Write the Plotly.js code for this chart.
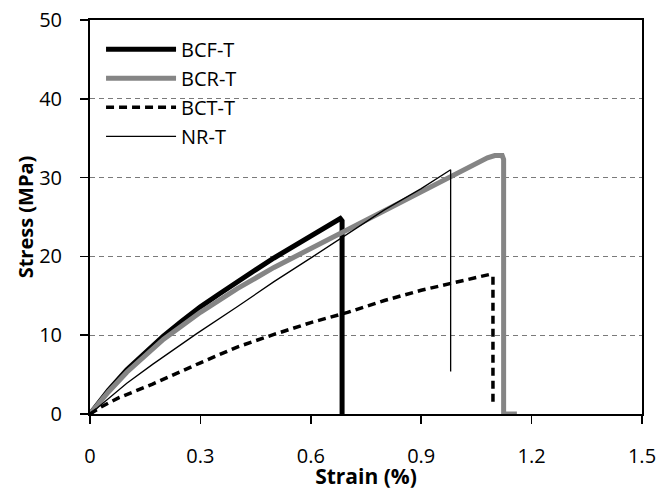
<!DOCTYPE html>
<html>
<head>
<meta charset="utf-8">
<script src="https://cdn.plot.ly/plotly-3.0.1.min.js"></script>
<style>html,body{margin:0;padding:0;background:#fff;}#chart{width:659px;height:490px;}</style>
</head>
<body>
<div id="chart"></div>
<script>
// BCF-T
var bcfStrain = [0, 0.025, 0.05, 0.1, 0.15, 0.2, 0.25, 0.3, 0.35, 0.4, 0.45, 0.5, 0.55, 0.6, 0.65, 0.68, 0.685, 0.685];
var bcfStress = [0, 1.6, 3.0, 5.6, 7.8, 9.9, 11.8, 13.6, 15.2, 16.8, 18.3, 19.8, 21.2, 22.6, 23.9, 24.8, 24.5, 0];
// BCR-T
var bcrStrain = [0, 0.025, 0.05, 0.1, 0.15, 0.2, 0.3, 0.4, 0.5, 0.6, 0.7, 0.8, 0.9, 1.0, 1.05, 1.08, 1.1, 1.12, 1.124, 1.124, 1.16];
var bcrStress = [0, 1.5, 2.8, 5.3, 7.5, 9.5, 12.9, 15.9, 18.6, 21.0, 23.3, 25.7, 28.1, 30.5, 31.8, 32.5, 32.8, 32.8, 32.3, 0, 0];
// BCT-T
var bctStrain = [0, 0.03, 0.08, 0.17, 0.3, 0.4, 0.5, 0.6, 0.7, 0.8, 0.9, 1.0, 1.05, 1.085, 1.095, 1.095];
var bctStress = [0, 0.9, 2.1, 3.8, 6.5, 8.5, 10.1, 11.6, 12.9, 14.4, 15.7, 16.8, 17.3, 17.7, 17.5, 1.0];
// NR-T
var nrStrain = [0, 0.05, 0.1, 0.17, 0.29, 0.4, 0.5, 0.61, 0.7, 0.8, 0.9, 0.98, 0.98];
var nrStress = [0, 2.0, 3.9, 6.3, 10.2, 13.6, 16.8, 20.1, 22.9, 25.9, 28.6, 31.0, 5.4];

var xTicks = [0, 0.3, 0.6, 0.9, 1.2, 1.5];
var xTickText = ['0', '0.3', '0.6', '0.9', '1.2', '1.5'];
var yTicks = [0, 10, 20, 30, 40, 50];

var font = 'Open Sans, Noto Sans, sans-serif';

var traces = [
  {x: bcfStrain, y: bcfStress, name: 'BCF-T', mode: 'lines', line: {color: '#000000', width: 5}},
  {x: bcrStrain, y: bcrStress, name: 'BCR-T', mode: 'lines', line: {color: '#858585', width: 5}},
  {x: bctStrain, y: bctStress, name: 'BCT-T', mode: 'lines', line: {color: '#000000', width: 3.5, dash: '8px,5px'}},
  {x: nrStrain, y: nrStress, name: 'NR-T', mode: 'lines', line: {color: '#000000', width: 1.3}}
];

var layout = {
  width: 659, height: 490,
  margin: {l: 90, r: 17, t: 20, b: 76},
  paper_bgcolor: '#ffffff', plot_bgcolor: '#ffffff',
  font: {family: font, color: '#000000', size: 20},
  showlegend: true,
  legend: {x: 0.02, y: 0.975, xanchor: 'left', yanchor: 'top', bgcolor: 'rgba(0,0,0,0)',
           font: {family: font, size: 20, color: '#000'}, tracegroupgap: 0, itemwidth: 70},
  xaxis: {
    range: [0, 1.5], tickvals: xTicks, ticktext: xTickText,
    showline: true, linecolor: '#000', linewidth: 2, mirror: true,
    ticks: 'outside', ticklen: 8, tickwidth: 1.5, tickcolor: '#000',
    showgrid: false, zeroline: false,
    tickfont: {family: font, size: 20, color: '#000'},
    ticklabelstandoff: 15,
    title: {text: '<b>Strain (%)</b>', font: {family: font, size: 21, color: '#000'}, standoff: 0}
  },
  yaxis: {
    range: [0, 50], tickvals: yTicks,
    showline: true, linecolor: '#000', linewidth: 2, mirror: true,
    ticks: 'outside', ticklen: 8, tickwidth: 1.5, tickcolor: '#000',
    showgrid: true, gridcolor: '#7a7a7a', gridwidth: 1, griddash: '5px,4px', zeroline: false,
    tickfont: {family: font, size: 20, color: '#000'},
    ticklabelstandoff: 14,
    title: {text: '<b>Stress (MPa)</b>', font: {family: font, size: 20, color: '#000'}, standoff: 0}
  }
};

Plotly.newPlot('chart', traces, layout, {displayModeBar: false, staticPlot: true});
</script>
</body>
</html>
